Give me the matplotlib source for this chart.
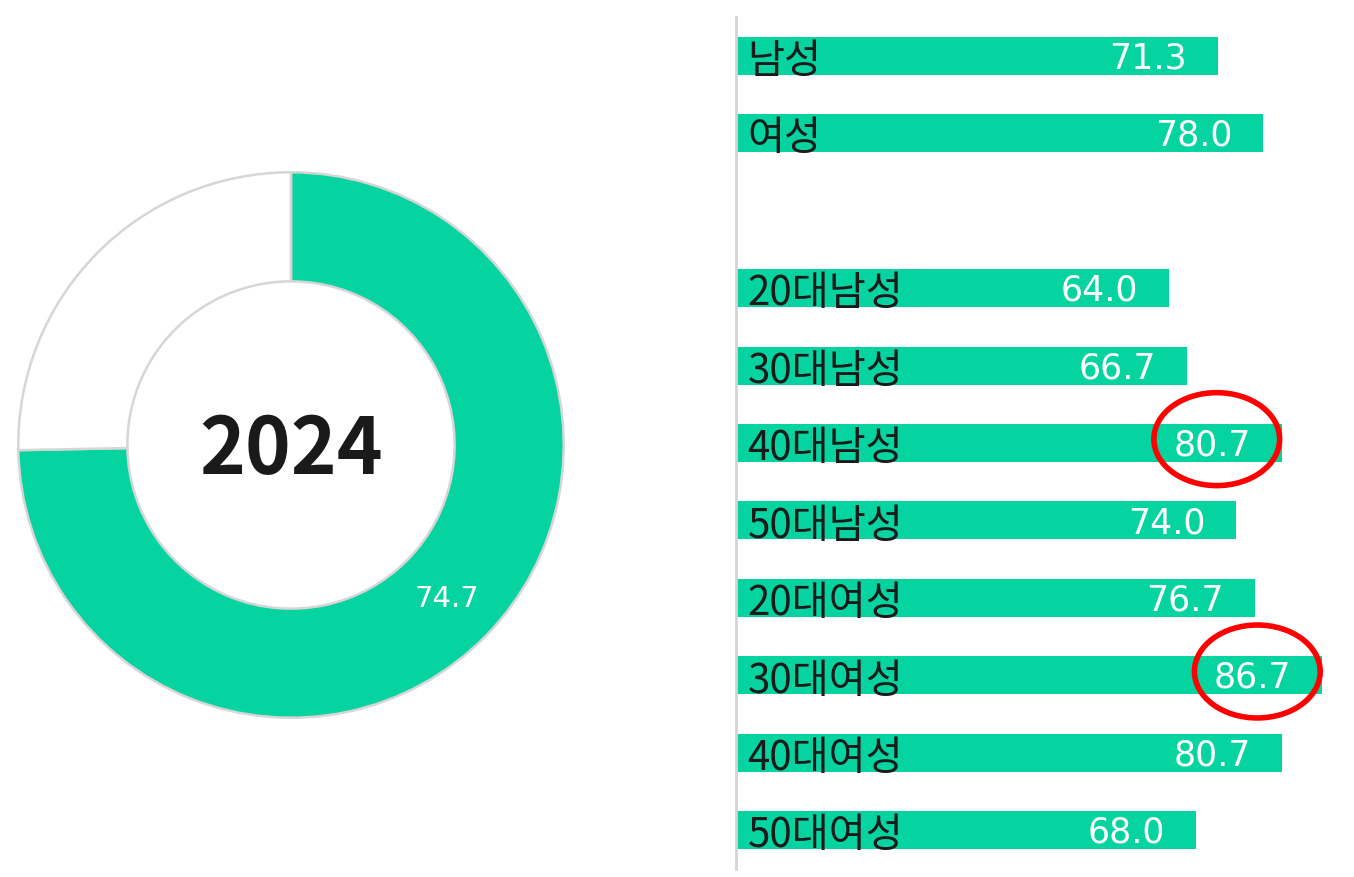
import numpy as np
import matplotlib
matplotlib.use('Agg')
import matplotlib.pyplot as plt
from matplotlib.patches import Ellipse

plt.rcParams['font.family'] = ['Noto Sans CJK KR', 'DejaVu Sans']

# 데이터
year_label = '2024'
total_value = 74.7
categories = ['남성', '여성', '20대남성', '30대남성', '40대남성', '50대남성',
              '20대여성', '30대여성', '40대여성', '50대여성']
values = [71.3, 78.0, 64.0, 66.7, 80.7, 74.0, 76.7, 86.7, 80.7, 68.0]
slots = [0, 1, 3, 4, 5, 6, 7, 8, 9, 10]   # 2번 자리는 빈칸
highlight = ['40대남성', '30대여성']

green = '#05D3A0'
W, H = 1354, 878
fig = plt.figure(figsize=(W / 100, H / 100), dpi=100)

# 1. 도넛 차트
ax1 = fig.add_axes([-9 / W, 132 / H, 600 / W, 600 / H])
wedges, _ = ax1.pie([total_value, 100 - total_value], startangle=90, counterclock=False,
                    colors=[green, 'white'],
                    wedgeprops=dict(width=0.4, edgecolor='#d6d6d6', linewidth=1.8))
ax1.set_xlim(-1.1, 1.1)
ax1.set_ylim(-1.1, 1.1)
ax1.set_aspect('equal')
ax1.axis('off')
ax1.text(0, -0.02, year_label, ha='center', va='center', fontsize=56,
         fontweight='bold', color='#1a1a1a')
mid = np.deg2rad((wedges[0].theta1 + wedges[0].theta2) / 2)
ax1.text(0.8 * np.cos(mid), 0.8 * np.sin(mid), f'{total_value:.1f}', ha='center', va='center',
         fontsize=21, color='white', family='DejaVu Sans')

# 2. 가로 막대
ax2 = fig.add_axes([736 / W, 8 / H, 618 / W, 852 / H])
ax2.barh(slots, values, height=0.49, color=green)
ax2.set_xlim(0, 91.4)
ax2.set_ylim(10.5, -0.5)
for s in ['top', 'right', 'bottom']:
    ax2.spines[s].set_visible(False)
ax2.spines['left'].set_color('#d4d4d4')
ax2.spines['left'].set_linewidth(2)
ax2.set_xticks([])
ax2.set_yticks([])

for y, cat, v in zip(slots, categories, values):
    ax2.text(1.7, y + 0.06, cat, ha='left', va='center', fontsize=29, color='#1a1a1a')
    ax2.text(v - 4.6, y + 0.02, f'{v:.1f}', ha='right', va='center', fontsize=25,
             color='white', family='DejaVu Sans')
    if cat in highlight:
        ax2.add_patch(Ellipse((v - 9.6, y - 0.05), 18.6, 1.2, fill=False,
                              edgecolor='#ff0000', linewidth=4, clip_on=False))

fig.savefig('out.png', dpi=100)
